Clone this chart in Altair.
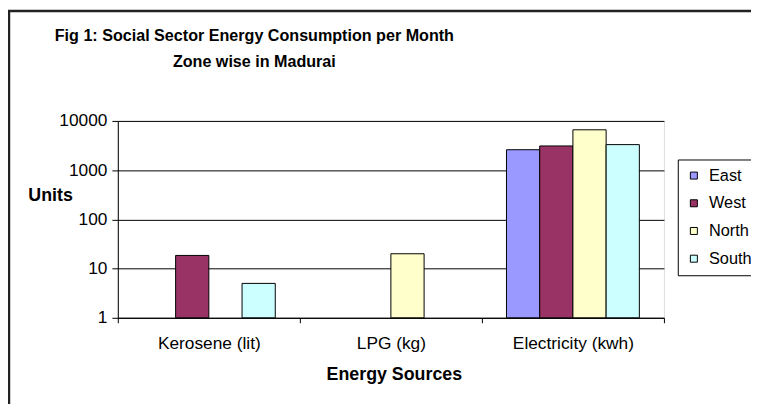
import altair as alt
import pandas as pd

sources = ["Kerosene (lit)", "LPG (kg)", "Electricity (kwh)"]
zones = ["East", "West", "North", "South"]
east = [None, None, 2600]
west = [18.5, None, 3100]
north = [None, 20, 6600]
south = [5, None, 3300]
zone_colors = ["#9999FF", "#993366", "#FFFFCC", "#CCFFFF"]
y_ticks = [1, 10, 100, 1000, 10000]
title_lines = ["Fig 1: Social Sector Energy Consumption per Month", "Zone wise in Madurai"]

rows = []
for zone, vals in zip(zones, [east, west, north, south]):
    for src, v in zip(sources, vals):
        if v is not None:
            rows.append({"source": src, "zone": zone, "value": v})
df = pd.DataFrame(rows)

W, H = 552, 199
FONT = "Liberation Sans"

bars = alt.Chart(df).mark_bar(stroke="black", strokeWidth=1, opacity=1).encode(
    x=alt.X("source:N", sort=sources,
            scale=alt.Scale(paddingInner=0, paddingOuter=0),
            axis=alt.Axis(title="Energy Sources", labelAngle=0, tickBand="extent",
                          tickSize=5, tickColor="black", domainColor="black",
                          labelFont=FONT, labelFontSize=17.5, labelColor="black",
                          labelBaseline="alphabetic", labelPadding=26,
                          titleFont=FONT, titleFontSize=18, titleFontWeight="bold",
                          titleColor="black", titleX=279, titleY=62,
                          titleBaseline="alphabetic", grid=False)),
    xOffset=alt.XOffset("zone:N", sort=zones,
                        scale=alt.Scale(paddingOuter=0.74, paddingInner=0)),
    y=alt.Y("value:Q",
            scale=alt.Scale(type="log", domain=[1, 10000], nice=False),
            axis=alt.Axis(title="Units", values=y_ticks, format="d",
                          tickSize=6, tickColor="black", domainColor="black",
                          labelFont=FONT, labelFontSize=17.5, labelColor="black",
                          labelPadding=5, labelBaseline="middle",
                          gridColor="black", gridWidth=1,
                          titleFont=FONT, titleFontSize=18, titleFontWeight="bold",
                          titleColor="black", titleAngle=0, titleAlign="left",
                          titleX=-91, titleY=80.7, titleBaseline="alphabetic")),
    y2=alt.datum(1),
    color=alt.Color("zone:N", sort=zones,
                    scale=alt.Scale(domain=zones, range=zone_colors),
                    legend=alt.Legend(title=None, orient="none", legendX=566, legendY=39,
                                      padding=8, strokeColor="black", fillColor="white",
                                      symbolType="square", symbolSize=50,
                                      symbolStrokeColor="black", symbolStrokeWidth=1,
                                      symbolOpacity=1,
                                      labelFont=FONT, labelFontSize=16.5,
                                      labelColor="black", labelOffset=7,
                                      rowPadding=11)),
)

one = pd.DataFrame({"k": [0]})
title_text = alt.Chart(one).mark_text(
    text=title_lines, font=FONT, fontSize=16.3, fontWeight="bold", color="black",
    align="center", baseline="alphabetic", lineHeight=27,
).encode(x=alt.value(138), y=alt.value(-81))

left_border = alt.Chart(one).mark_rule(color="#222222", strokeWidth=2.5).encode(
    x=alt.value(-110), y=alt.value(-111), y2=alt.value(H + 90))
top_border = alt.Chart(one).mark_rule(color="#222222", strokeWidth=2.5).encode(
    x=alt.value(-111), x2=alt.value(W + 100), y=alt.value(-111))

chart = alt.layer(bars, title_text, left_border, top_border).properties(
    width=W, height=H,
    autosize=alt.AutoSizeParams(type="none"),
    padding={"left": 111, "top": 112, "right": 88, "bottom": 85},
).configure_view(fill="#C0C0C0", stroke="#808080", strokeWidth=1
).configure(background="white")

chart.save("out.html", embed_options={"renderer": "svg", "actions": False})
